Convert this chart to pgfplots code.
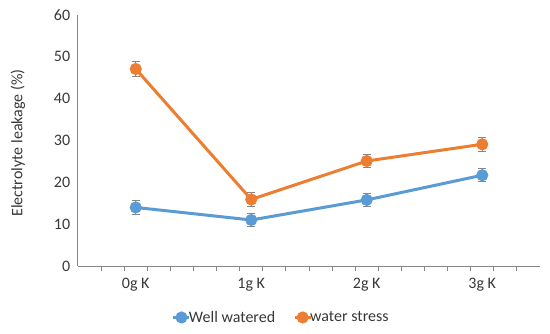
\documentclass[border=0pt]{standalone}
\usepackage{pgfplots}
\pgfplotsset{compat=1.18}
\usepackage{fontspec}
\setmainfont{Carlito}
\definecolor{wblue}{RGB}{91,155,213}
\definecolor{worange}{RGB}{237,125,49}
\definecolor{axgray}{RGB}{134,134,134}
\begin{document}
\begin{tikzpicture}
\path[use as bounding box] (-78pt,-67pt) rectangle (472pt,266pt);
\begin{axis}[
  at={(0pt,0pt)}, anchor=south west,
  scale only axis, width=462pt, height=251pt,
  xmin=-0.5, xmax=3.5, ymin=0, ymax=60,
  axis x line=bottom, axis y line=left,
  axis line style={axgray, line width=1pt, -},
  xtick={0,1,2,3},
  xticklabels={0g K,1g K,2g K,3g K},
  minor xtick={-0.3,-0.1,0.1,0.3,0.5,0.7,0.9,1.1,1.3,1.5,1.7,1.9,2.1,2.3,2.5,2.7,2.9,3.1,3.3},
  major x tick style={draw=none},
  minor x tick style={axgray, line width=0.8pt},
  minor tick length=5pt,
  tick align=outside,
  ytick={0,10,20,30,40,50,60},
  major y tick style={draw=none},
  ticklabel style={font=\fontsize{16}{18}\selectfont, text=black!78},
  /pgf/number format/assume math mode=true,
  xticklabel style={yshift=-4pt},
  yticklabel style={xshift=0pt},
  ylabel={Electrolyte leakage (\%)},
  ylabel style={font=\fontsize{16}{18}\selectfont, text=black!78, at={(axis description cs:-0.13,0.49)}, anchor=center},
  clip=false,
  legend columns=2,
  legend style={draw=none, fill=none, at={(axis description cs:0.44,-0.205)}, anchor=center,
    font=\fontsize{16}{18}\selectfont, text=black!78,
    /tikz/every even column/.append style={column sep=16pt},
    /tikz/every odd column/.append style={column sep=-4pt}},
  legend image code/.code={
    \draw[#1, line width=3pt] (0pt,0pt) -- (16pt,0pt);
    \draw[#1, only marks] plot coordinates {(8pt,0pt)};
  },
]
\addplot[color=wblue, line width=3pt, mark=*, mark size=4.5pt, mark options={solid},
  error bars/.cd, y dir=both, y explicit,
  error bar style={axgray, line width=1pt}, error mark options={rotate=90, axgray, mark size=4pt, line width=1pt}]
  coordinates {(0,14.0) +- (0,1.6) (1,11.0) +- (0,1.6) (2,15.8) +- (0,1.6) (3,21.7) +- (0,1.6)};
\addlegendentry{Well watered}
\addplot[color=worange, line width=3pt, mark=*, mark size=4.5pt, mark options={solid},
  error bars/.cd, y dir=both, y explicit,
  error bar style={axgray, line width=1pt}, error mark options={rotate=90, axgray, mark size=4pt, line width=1pt}]
  coordinates {(0,47.1) +- (0,1.7) (1,15.9) +- (0,1.6) (2,25.1) +- (0,1.6) (3,29.1) +- (0,1.7)};
\addlegendentry{water stress}
\end{axis}
\end{tikzpicture}
\end{document}
